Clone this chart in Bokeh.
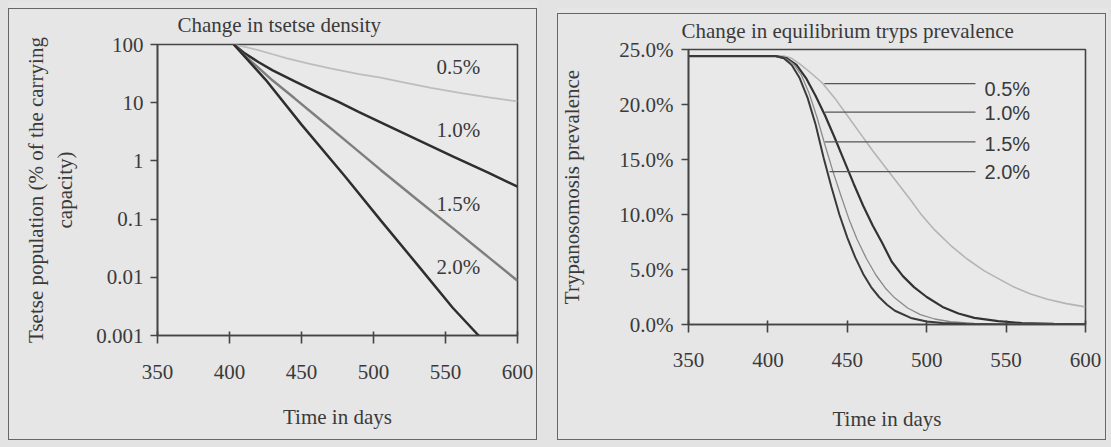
from bokeh.plotting import figure
from bokeh.models import Range1d, FixedTicker, Label, Title
from bokeh.embed import file_html
from bokeh.resources import INLINE

# ---------------- data: left panel (tsetse density, % of carrying capacity) ----------
days_05 = [403, 410, 420, 430, 440, 455, 470, 490, 505, 520, 540, 562, 580, 600]
dens_05 = [100, 92, 80, 68, 58, 47, 39, 31, 27, 22.5, 18, 14.5, 12.3, 10.5]

days_10 = [403, 410, 420, 430, 445, 460, 475, 490, 505, 530, 555, 580, 600]
dens_10 = [100, 72, 50, 36, 23.4, 15.5, 10.5, 6.9, 4.6, 2.34, 1.2, 0.62, 0.36]

days_15 = [403, 410, 420, 430, 445, 460, 480, 505, 530, 555, 580, 600]
dens_15 = [100, 66, 40, 24, 12, 5.9, 2.3, 0.7, 0.22, 0.07, 0.022, 0.0087]

days_20 = [403, 425, 450, 480, 505, 530, 555, 573, 585]
dens_20 = [100, 25, 4.2, 0.55, 0.095, 0.017, 0.003, 0.001, 0.0004]

# ---------------- data: right panel (trypanosomosis prevalence, %) ----------
rdays_20 = [350, 405, 410, 415, 420, 425, 430, 435, 440, 445, 450, 455, 460, 465,
            470, 475, 480, 490, 500, 510, 525, 550, 600]
prev_20 = [24.4, 24.4, 24.2, 23.6, 22.4, 20.6, 18.2, 15.2, 12.5, 10.0, 7.9, 6.1, 4.6, 3.4,
           2.5, 1.8, 1.25, 0.6, 0.28, 0.13, 0.05, 0.01, 0.0]

rdays_15 = [350, 405, 411, 416, 421, 426, 431, 436, 441, 446, 451, 456, 462, 468,
            474, 480, 488, 496, 505, 515, 530, 550, 600]
prev_15 = [24.4, 24.4, 24.2, 23.7, 22.7, 21.0, 18.8, 16.3, 13.9, 11.7, 9.6, 7.8, 6.0, 4.5,
           3.3, 2.4, 1.5, 0.9, 0.5, 0.25, 0.09, 0.03, 0.0]

rdays_10 = [350, 405, 412, 418, 424, 430, 436, 442, 448, 454, 460, 466, 472, 478,
            485, 492, 500, 510, 520, 530, 545, 560, 580, 600]
prev_10 = [24.4, 24.4, 24.2, 23.6, 22.4, 20.8, 19.0, 17.0, 14.9, 12.8, 10.8, 9.0, 7.4, 5.7,
           4.4, 3.4, 2.5, 1.6, 1.0, 0.6, 0.3, 0.13, 0.05, 0.02]

rdays_05 = [350, 410, 415, 420, 426, 434, 442, 450, 458, 466, 474, 482, 490, 496,
            505, 515, 525, 536, 546, 555, 565, 576, 588, 600]
prev_05 = [24.4, 24.4, 24.2, 23.7, 23.0, 22.0, 20.6, 19.0, 17.4, 15.8, 14.3, 12.8, 11.3, 10.1,
           8.6, 7.2, 6.0, 4.9, 4.1, 3.4, 2.8, 2.3, 1.9, 1.6]

series_names = ["0.5%", "1.0%", "1.5%", "2.0%"]

x_ticks = [350, 400, 450, 500, 550, 600]
left_y_ticks = [0.001, 0.01, 0.1, 1, 10, 100]
left_y_labels = ["0.001", "0.01", "0.1", "1", "10", "100"]
right_y_ticks = [0, 5, 10, 15, 20, 25]
right_y_labels = ["0.0%", "5.0%", "10.0%", "15.0%", "20.0%", "25.0%"]

SERIF = "Liberation Serif"
SANS = "Liberation Sans"
TXT = "#3a3a3a"
PANEL_BG = "#e6e6e6"
PLOT_BG = "#e9e9e9"
FS = "21px"


def style_axes(p):
    for ax in (p.xaxis[0], p.yaxis[0]):
        ax.axis_line_color = "#444444"
        ax.axis_line_width = 1.6
        ax.major_tick_line_color = "#444444"
        ax.major_tick_line_width = 1.6
        ax.minor_tick_line_color = None
        ax.major_label_text_font = SERIF
        ax.major_label_text_font_size = FS
        ax.major_label_text_color = TXT
        ax.axis_label_text_font = SERIF
        ax.axis_label_text_font_size = FS
        ax.axis_label_text_font_style = "normal"
        ax.axis_label_text_color = TXT
    p.xaxis.major_tick_in = 4
    p.xaxis.major_tick_out = 8
    p.yaxis.major_tick_in = 0
    p.yaxis.major_tick_out = 7
    p.xgrid.grid_line_color = None
    p.ygrid.grid_line_color = None
    p.outline_line_color = "#444444"
    p.outline_line_width = 1.6
    p.xaxis.ticker = FixedTicker(ticks=x_ticks)


def make_title(text, offset, standoff):
    return Title(text=text, text_font=SERIF, text_font_size=FS,
                 text_font_style="normal", text_color=TXT,
                 align="left", offset=offset, standoff=standoff)


# ---------------- left panel ----------------
p1 = figure(frame_width=360, frame_height=291, y_axis_type="log",
            x_range=Range1d(350, 600), y_range=Range1d(0.001, 100),
            output_backend="svg", toolbar_location=None,
            min_border_left=149, min_border_right=20,
            min_border_top=42, min_border_bottom=105,
            background_fill_color=PLOT_BG, border_fill_color=PANEL_BG)
p1.title = make_title("Change in tsetse density", 20, 15)
style_axes(p1)
p1.yaxis.ticker = FixedTicker(ticks=left_y_ticks)
p1.yaxis.major_label_overrides = {t: l for t, l in zip(left_y_ticks, left_y_labels)}
p1.yaxis.major_label_standoff = 7
p1.xaxis.major_label_standoff = 21
p1.xaxis.axis_label = "Time in days"
p1.xaxis.axis_label_standoff = 23
p1.yaxis.axis_label = "Tsetse population (% of the carrying\ncapacity)"
p1.yaxis.axis_label_standoff = 16

p1.line(days_05, dens_05, line_color="#bdbdbd", line_width=1.8)
p1.line(days_10, dens_10, line_color="#2e2e2e", line_width=2.5)
p1.line(days_15, dens_15, line_color="#7f7f7f", line_width=2.5)
p1.line(days_20, dens_20, line_color="#2e2e2e", line_width=2.5)

left_label_x = 559
left_label_y = [40.3, 3.33, 0.185, 0.0148]
for name, ly in zip(series_names, left_label_y):
    p1.add_layout(Label(x=left_label_x, y=ly, text=name, text_font=SERIF,
                        text_font_size=FS, text_color=TXT,
                        text_align="center", text_baseline="middle"))

# ---------------- right panel ----------------
p2 = figure(frame_width=397, frame_height=275,
            x_range=Range1d(350, 600), y_range=Range1d(0, 25),
            output_backend="svg", toolbar_location=None,
            min_border_left=129, min_border_right=23,
            min_border_top=42, min_border_bottom=116,
            background_fill_color=PLOT_BG, border_fill_color=PANEL_BG)
p2.title = make_title("Change in equilibrium tryps prevalence", -7, 14)
style_axes(p2)
p2.yaxis.ticker = FixedTicker(ticks=right_y_ticks)
p2.yaxis.major_label_overrides = {t: l for t, l in zip(right_y_ticks, right_y_labels)}
p2.yaxis.major_label_standoff = 8
p2.xaxis.major_label_standoff = 20
p2.xaxis.axis_label = "Time in days"
p2.xaxis.axis_label_standoff = 37
p2.yaxis.axis_label = "Trypanosomosis prevalence"
p2.yaxis.axis_label_standoff = 32

p2.line(rdays_05, prev_05, line_color="#b4b4b4", line_width=1.6)
p2.line(rdays_10, prev_10, line_color="#333333", line_width=2.2)
p2.line(rdays_15, prev_15, line_color="#8a8a8a", line_width=1.3)
p2.line(rdays_20, prev_20, line_color="#3a3a3a", line_width=2.0)

leader_x0 = [435.6, 436, 436, 438.8]
leader_x1 = 530.7
leader_y = [21.9, 19.3, 16.6, 13.9]
label_y = [21.45, 19.2, 16.4, 13.9]
p2.segment(x0=leader_x0, y0=leader_y, x1=[leader_x1] * 4, y1=leader_y,
           line_color="#555555", line_width=1.3)
for name, ly in zip(series_names, label_y):
    p2.add_layout(Label(x=536.4, y=ly, text=name, text_font=SANS,
                        text_font_size="20px", text_color=TXT,
                        text_align="left", text_baseline="middle"))

p2.styles = {"margin-top": "5px"}

html = file_html([p1, p2], INLINE)
css = ("<style>html, body { background-color: #e3e3e3; } "
       "body { display: flex !important; flex-direction: row; align-items: flex-start; "
       "gap: 20px; padding: 2px 8px 8px 8px !important; margin: 0; box-sizing: border-box; } "
       ".panel-frame { position: absolute; border: 1.5px solid #666666; box-sizing: border-box; "
       "pointer-events: none; z-index: 1000; }</style>")
html = html.replace("</head>", css + "</head>", 1)
frames = ('<div class="panel-frame" style="left:8px; top:8px; width:529px; height:432px;"></div>'
          '<div class="panel-frame" style="left:557px; top:13px; width:549px; height:427px;"></div>')
html = html.replace("</body>", frames + "</body>", 1)
open("out.html", "w").write(html)
